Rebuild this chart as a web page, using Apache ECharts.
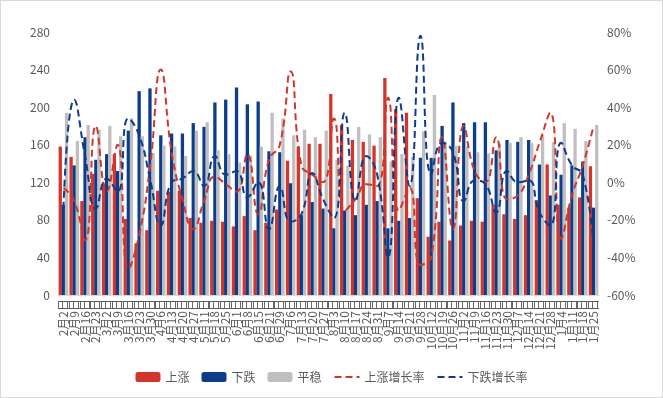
<!DOCTYPE html>
<html>
<head>
<meta charset="utf-8">
<title>涨跌平稳统计</title>
<script src="https://cdn.jsdelivr.net/npm/echarts@6/dist/echarts.min.js"></script>
<style>
  html, body { margin: 0; padding: 0; background: #fff; }
  #chart { width: 661px; height: 396px; border: 1px solid #d9d9d9; }
</style>
</head>
<body>
<div id="chart"></div>
<script>
  // 日期（周）
  const dates = [
    '2月2日', '2月9日', '2月16日', '2月23日', '3月2日', '3月9日', '3月16日', '3月23日', '3月30日',
    '4月6日', '4月13日', '4月20日', '4月27日', '5月11日', '5月18日', '5月25日',
    '6月1日', '6月8日', '6月15日', '6月21日', '6月29日', '7月6日', '7月13日', '7月20日', '7月27日',
    '8月3日', '8月10日', '8月17日', '8月24日', '8月31日', '9月7日', '9月14日', '9月21日', '9月28日',
    '10月12日', '10月19日', '10月26日', '11月2日', '11月9日', '11月16日', '11月23日', '11月30日',
    '12月7日', '12月14日', '12月21日', '12月28日', '1月4日', '1月11日', '1月18日', '1月25日'
  ]

  // 上涨
  const upData = [
    158, 147, 100, 129, 119, 150, 81, 55, 69, 111, 110, 111, 82, 77, 79, 78,
    73, 84, 69, 77, 91, 143, 158, 161, 161, 214, 181, 165, 163, 159, 231, 198, 194, 103,
    62, 78, 58, 74, 79, 78, 96, 86, 81, 85, 101, 139, 96, 93, 104, 137
  ]
  // 下跌
  const downData = [
    96, 138, 168, 144, 150, 132, 175, 217, 220, 170, 172, 172, 183, 179, 205, 208,
    221, 203, 206, 153, 152, 119, 85, 99, 92, 71, 90, 85, 96, 100, 71, 79, 82, 146,
    146, 180, 205, 183, 184, 184, 154, 165, 163, 165, 139, 106, 128, 138, 142, 93
  ]
  // 平稳
  const flatData = [
    194, 164, 181, 176, 180, 169, 188, 169, 151, 159, 158, 148, 175, 184, 154, 150,
    141, 148, 158, 194, 188, 170, 176, 168, 175, 144, 138, 179, 171, 168, 142, 150, 147, 174,
    213, 163, 159, 158, 152, 151, 161, 162, 168, 162, 170, 163, 183, 177, 164, 181
  ]
  // 上涨增长率（%）
  const upRate = [
    -3, -10, -31, 30, -5, 20, -46, -28, 8, 60, 16, -9, -25, -10, 3, -1,
    -5, 15, -17, 12, 20, 59, 9, 4, 0, 34, -15, -9, -1, -2, 45, -15, -3, -44,
    -40, 24, -25, 30, 6, 0, 24, -9, -7, 4, 21, 37, -30, -7, 9, 30
  ]
  // 下跌增长率（%）
  const downRate = [
    -14, 44, 14, -14, 2, -5, 34, 25, 2, -23, 0, 2, 6, -2, 14, 4,
    6, -8, 0, -25, -2, -21, -17, 5, -9, -19, 37, -10, 14, 4, -40, 45, -2, 78,
    4, 21, 16, -10, 1, -1, -16, 6, 0, 1, -16, -23, 21, 9, 4, -35
  ]

  const RED = '#d5342a'
  const BLUE = '#0b3d8c'
  const GREY = '#bfbfbf'
  const FONT = '"Noto Sans CJK SC", "Noto Sans", sans-serif'
  const TEXT = '#595959'

  const mChart = echarts.init(document.getElementById('chart'))

  const barSeries = (name, data, color) => ({
    name,
    type: 'bar',
    data,
    barWidth: 3.3,
    barGap: '-5%',
    itemStyle: { color }
  })

  const lineSeries = (name, data, color) => ({
    name,
    type: 'line',
    yAxisIndex: 1,
    data,
    smooth: true,
    symbol: 'none',
    z: 5,
    lineStyle: { color, width: 2, type: [7, 4] },
    itemStyle: { color }
  })

  const options = {
    animation: false,
    textStyle: { fontFamily: FONT },
    grid: { left: 57, right: 63, top: 31, bottom: 102 },
    // 图例
    legend: {
      bottom: 9,
      left: 'center',
      itemWidth: 25,
      itemHeight: 10,
      itemGap: 12,
      textStyle: { color: TEXT, fontSize: 12, fontFamily: FONT },
      data: [
        { name: '上涨' },
        { name: '下跌' },
        { name: '平稳' },
        { name: '上涨增长率', itemStyle: { opacity: 0 } },
        { name: '下跌增长率', itemStyle: { opacity: 0 } }
      ]
    },
    xAxis: {
      type: 'category',
      data: dates,
      axisLine: { lineStyle: { color: '#d9d9d9', width: 1 } },
      axisTick: { show: false },
      axisLabel: {
        interval: 0,
        rotate: 90,
        color: TEXT,
        fontSize: 12,
        margin: 4,
        fontFamily: FONT
      }
    },
    yAxis: [
      {
        type: 'value',
        min: 0,
        max: 280,
        interval: 40,
        axisLine: { show: false },
        axisTick: { show: false },
        splitLine: { show: false },
        axisLabel: { color: TEXT, fontSize: 12 }
      },
      {
        type: 'value',
        min: -60,
        max: 80,
        interval: 20,
        axisLine: { show: false },
        axisTick: { show: false },
        splitLine: { show: false },
        axisLabel: { color: TEXT, fontSize: 12, formatter: '{value}%' }
      }
    ],
    series: [
      barSeries('上涨', upData, RED),
      barSeries('下跌', downData, BLUE),
      barSeries('平稳', flatData, GREY),
      lineSeries('上涨增长率', upRate, RED),
      lineSeries('下跌增长率', downRate, BLUE)
    ]
  }

  mChart.setOption(options)
</script>
</body>
</html>
